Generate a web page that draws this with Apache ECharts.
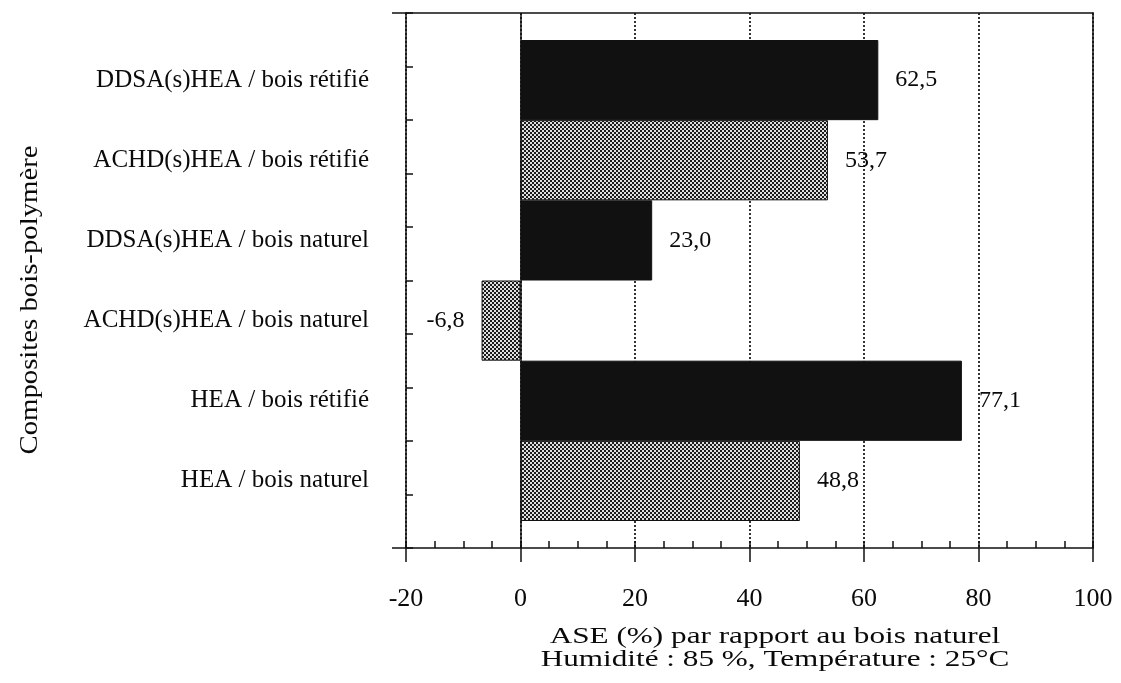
<!DOCTYPE html>
<html>
<head>
<meta charset="utf-8">
<script src="https://cdn.jsdelivr.net/npm/echarts@6/dist/echarts.min.js"></script>
<style>html,body{margin:0;padding:0;background:#fff}#c{width:1121px;height:683px}</style>
</head>
<body>
<div id="c"></div>
<script>
const categories = [
  'DDSA(s)HEA / bois rétifié',
  'ACHD(s)HEA / bois rétifié',
  'DDSA(s)HEA / bois naturel',
  'ACHD(s)HEA / bois naturel',
  'HEA / bois rétifié',
  'HEA / bois naturel'
];
const values = [62.5, 53.7, 23.0, -6.8, 77.1, 48.8];
const fillKinds = ['solid', 'pattern', 'solid', 'pattern', 'solid', 'pattern'];
const xTickMin = -20, xTickMax = 100, xTickStep = 20;
const xTitleLines = ['ASE (%) par rapport au bois naturel', 'Humidité : 85 %, Température : 25°C'];
const yTitle = 'Composites bois-polymère';

const FONT = '"Liberation Serif", "Times New Roman", serif';
const INK = '#0a0a0a';

// dotted fill pattern
const tile = document.createElement('canvas');
tile.width = 4; tile.height = 4;
const tc = tile.getContext('2d');
tc.fillStyle = '#1c1c1c'; tc.fillRect(0, 0, 4, 4);
tc.fillStyle = '#e0e0e0';
tc.fillRect(0, 0, 2, 2); tc.fillRect(2, 2, 2, 2);
const patternFill = { image: tile, repeat: 'repeat' };

const barData = values.map((v, i) => ({
  value: v,
  itemStyle: { color: fillKinds[i] === 'solid' ? '#111' : patternFill },
  label: { position: v < 0 ? 'left' : 'right' }
}));

const chart = echarts.init(document.getElementById('c'), null, { renderer: 'canvas' });
chart.setOption({
  backgroundColor: '#fff',
  animation: false,
  grid: [
    { left: 406, right: 28, top: 13, bottom: 135 },
    { left: 406, right: 28, top: 40, bottom: 162 }
  ],
  graphic: [
    {
      type: 'text', x: 775, y: 625, scaleX: 1.3,
      style: { text: xTitleLines.join('\n'), font: '24px ' + FONT, lineHeight: 23, fill: INK, textAlign: 'center', textVerticalAlign: 'top' }
    },
    {
      type: 'text', x: 30, y: 300, rotation: Math.PI / 2, scaleX: 1.15,
      style: { text: yTitle, font: '25px ' + FONT, fill: INK, textAlign: 'center', textVerticalAlign: 'middle' }
    }
  ],
  xAxis: [
    { // main bottom axis with outward major ticks and labels
      gridIndex: 0, type: 'value', position: 'bottom', min: xTickMin, max: xTickMax, interval: xTickStep,
      axisLine: { show: true, onZero: false, lineStyle: { color: '#111', width: 1.5 } },
      axisTick: { show: true, inside: false, length: 14, lineStyle: { color: '#111', width: 1.5 } },
      axisLabel: { fontFamily: FONT, fontSize: 26, color: INK, margin: 38 },
      splitLine: { show: true, lineStyle: { color: '#333', width: 2, type: [2, 2] } }
    },
    { // inward ticks + minor ticks
      gridIndex: 0, type: 'value', position: 'bottom', min: xTickMin, max: xTickMax, interval: xTickStep,
      axisLine: { show: false, onZero: false },
      axisTick: { show: true, inside: true, length: 7, lineStyle: { color: '#111', width: 1.5 } },
      minorTick: { show: true, splitNumber: 4, length: 7, lineStyle: { color: '#111', width: 1.5 } },
      axisLabel: { show: false }, splitLine: { show: false }
    },
    { // top frame line
      gridIndex: 0, type: 'value', position: 'top', min: xTickMin, max: xTickMax,
      axisLine: { show: true, onZero: false, lineStyle: { color: '#111', width: 1.5 } },
      axisTick: { show: false }, axisLabel: { show: false }, splitLine: { show: false }
    },
    { // bars
      gridIndex: 1, type: 'value', min: xTickMin, max: xTickMax, show: false
    }
  ],
  yAxis: [
    { // left axis with inward ticks
      gridIndex: 0, type: 'value', position: 'left', min: 0, max: 10, interval: 1,
      axisLine: { show: true, onZero: false, lineStyle: { color: '#111', width: 1.5 } },
      axisTick: { show: true, inside: true, length: 7, lineStyle: { color: '#111', width: 1.5 } },
      axisLabel: { show: false }, splitLine: { show: false }
    },
    { // outward stubs at frame corners
      gridIndex: 0, type: 'value', position: 'left', min: 0, max: 10, interval: 10,
      axisLine: { show: false, onZero: false },
      axisTick: { show: true, inside: false, length: 14, lineStyle: { color: '#111', width: 1.5 } },
      axisLabel: { show: false }, splitLine: { show: false }
    },
    { // right frame
      gridIndex: 0, type: 'value', position: 'right', min: 0, max: 10,
      axisLine: { show: true, onZero: false, lineStyle: { color: '#111', width: 1.5 } },
      axisTick: { show: false }, axisLabel: { show: false }, splitLine: { show: false }
    },
    { // categories
      gridIndex: 1, type: 'category', data: categories, inverse: true, position: 'left',
      axisLine: { show: false }, axisTick: { show: false },
      axisLabel: { fontFamily: FONT, fontSize: 25, color: INK, margin: 37 }
    }
  ],
  series: [
    {
      type: 'line', xAxisIndex: 0, yAxisIndex: 0, data: [], silent: true,
      markLine: {
        symbol: 'none', silent: true, label: { show: false },
        lineStyle: { color: '#111', width: 1.5, type: 'solid' },
        data: [{ xAxis: 0 }]
      }
    },
    {
      type: 'bar', xAxisIndex: 3, yAxisIndex: 3, barWidth: '100%',
      data: barData,
      itemStyle: { borderColor: '#111', borderWidth: 1 },
      label: {
        show: true, distance: 17, fontFamily: FONT, fontSize: 24, color: INK,
        formatter: p => p.value.toFixed(1).replace('.', ',')
      }
    }
  ]
});
</script>
</body>
</html>
